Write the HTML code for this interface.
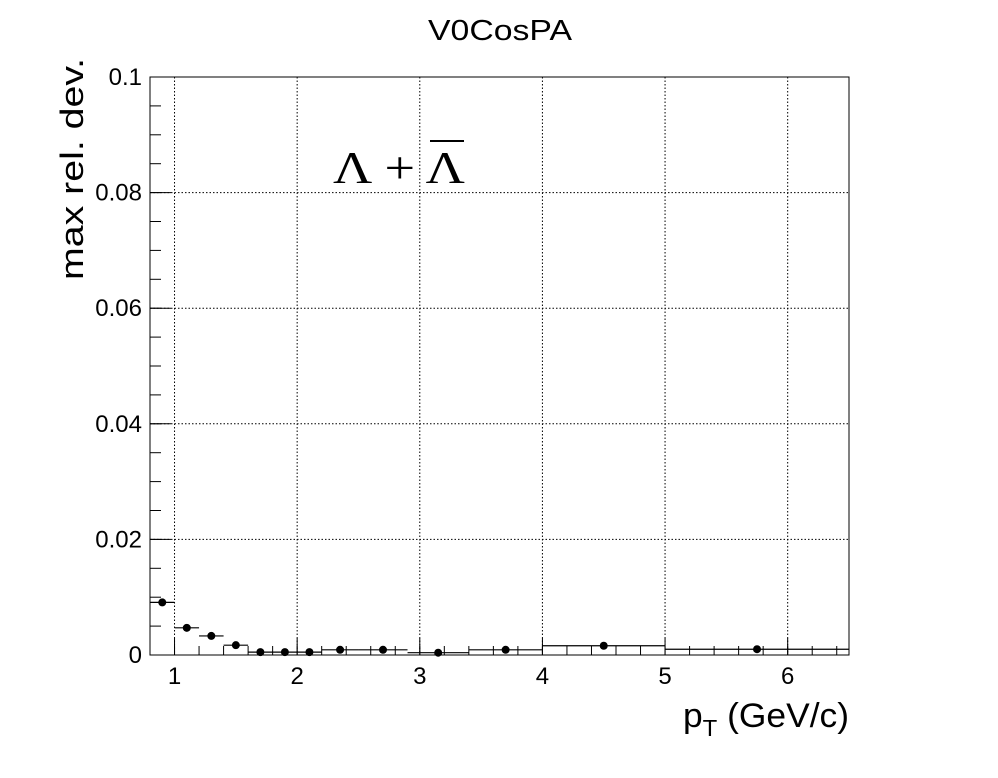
<!DOCTYPE html>
<html><head><meta charset="utf-8"><style>
body{margin:0;background:#fff;}
svg text{font-family:"Liberation Sans",sans-serif;}
</style></head><body>
<svg width="998" height="773" xmlns="http://www.w3.org/2000/svg">
<rect width="998" height="773" fill="#fff"/>
<g id="grid"></g>
<g id="hist"></g>
<rect x="150" y="77" width="699" height="578" fill="none" stroke="#000" stroke-width="1"/>
<g id="axes"></g>
<text x="500" y="40" font-size="29" text-anchor="middle" textLength="144" lengthAdjust="spacingAndGlyphs">V0CosPA</text>
<text transform="translate(83,280) rotate(-90)" font-size="32" textLength="222" lengthAdjust="spacingAndGlyphs">max rel. dev.</text>
<text x="849" y="727" font-size="34" text-anchor="end" textLength="166" lengthAdjust="spacingAndGlyphs">p<tspan font-size="23" dy="9">T</tspan><tspan dy="-9"> (GeV/c)</tspan></text>
<g>
<text x="333" y="183" font-size="46" textLength="132" lengthAdjust="spacingAndGlyphs" style="font-family:'Liberation Serif',serif">Λ + Λ</text>
<line x1="430" y1="141" x2="464" y2="141" stroke="#000" stroke-width="2"/>
</g>
</svg>
<script>
const binEdges=[0.8,1.0,1.2,1.4,1.6,1.8,2.0,2.2,2.5,2.9,3.4,4.0,5.0,6.5];
const pointX=[0.9,1.1,1.3,1.5,1.7,1.9,2.1,2.35,2.7,3.15,3.7,4.5,5.75];
const values=[0.0091,0.0047,0.0033,0.0017,0.0005,0.0005,0.0005,0.0009,0.0009,0.0004,0.0009,0.0016,0.0010];
const xTicks=[1,2,3,4,5,6];
const yTicks=[0,0.02,0.04,0.06,0.08,0.1];
const yTickLabels=["0","0.02","0.04","0.06","0.08","0.1"];
const NS="http://www.w3.org/2000/svg";
const X=v=>150+(v-0.8)*(699/5.7);
const Y=v=>655-v*5780;
function el(tag,attrs,parent){const e=document.createElementNS(NS,tag);for(const k in attrs)e.setAttribute(k,attrs[k]);parent.appendChild(e);return e;}
const grid=document.getElementById('grid'),axes=document.getElementById('axes'),hist=document.getElementById('hist');
xTicks.forEach(t=>{
 const g=el('line',{x1:X(t),x2:X(t),y1:77,y2:655,stroke:'#000','stroke-dasharray':'1.5,2','stroke-width':1},grid);
 
 const tk=el('line',{x1:X(t),x2:X(t),y1:655,y2:638,stroke:'#000'},axes);
 
 const tx=el('text',{x:X(t),y:684,'font-size':24,'text-anchor':'middle'},axes);tx.textContent=t;
 
});
for(let v=0.8;v<6.51;v+=0.2){const m=el('line',{x1:X(v),x2:X(v),y1:655,y2:646,stroke:'#000'},axes);
 }
yTicks.forEach((t,i)=>{
 if(i>0){const g=el('line',{x1:150,x2:849,y1:Y(t),y2:Y(t),stroke:'#000','stroke-dasharray':'1.5,2','stroke-width':1},grid);
 }
 const tk=el('line',{x1:150,x2:171,y1:Y(t),y2:Y(t),stroke:'#000'},axes);
 
 const tx=el('text',{x:142,y:Y(t)+8,'font-size':24,'text-anchor':'end'},axes);tx.textContent=yTickLabels[i];
 
});
for(let v=0;v<0.1001;v+=0.005){const m=el('line',{x1:150,x2:161,y1:Y(v),y2:Y(v),stroke:'#000'},axes);
 }
values.forEach((v,i)=>{
 const l=el('line',{x1:X(binEdges[i]),x2:X(binEdges[i+1]),y1:Y(v),y2:Y(v),stroke:'#000','stroke-width':1.2},hist);
 
 const c=el('circle',{cx:X(pointX[i]),cy:Y(v),r:4,fill:'#000'},hist);
 
});
</script>
</body></html>
